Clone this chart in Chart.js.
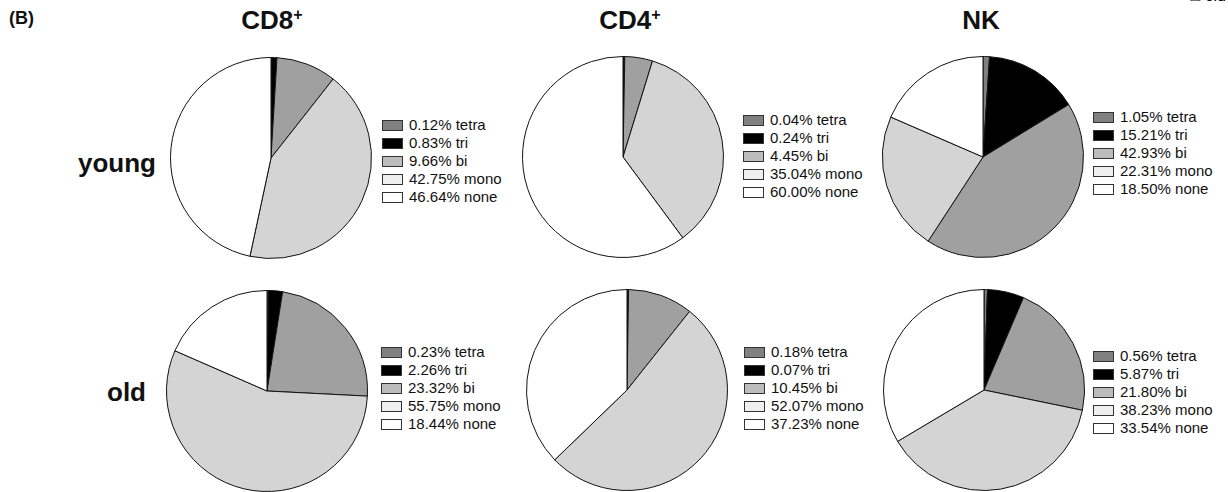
<!DOCTYPE html>
<html>
<head>
<meta charset="utf-8">
<script src="https://cdn.jsdelivr.net/npm/chart.js@4.4.0/dist/chart.umd.min.js"></script>
<style>
  body { margin: 0; background: #fff; font-family: "Liberation Sans", Arial, sans-serif; }
  #wrap { position: relative; width: 1228px; height: 492px; overflow: hidden; }
  .pie { position: absolute; }
  .title { position: absolute; font-weight: bold; font-size: 26px; color: #111; transform: translateX(-50%); }
  .title sup { font-size: 16px; vertical-align: 9px; }
  .row { position: absolute; font-weight: bold; font-size: 26px; color: #111; }
  .legend { position: absolute; font-size: 15px; color: #111; }
  .legend div { height: 18px; line-height: 18px; display: flex; align-items: center; }
  .legend span.sw { display: inline-block; width: 19px; height: 9px; border: 1px solid #333; margin-right: 6px; }
</style>
</head>
<body>
<div id="wrap">
  <div style="position:absolute;left:9px;top:8px;font-weight:bold;font-size:18px;color:#111;">(B)</div>
  <div style="position:absolute;right:2px;top:-13px;font-size:16px;">&#9633; old</div>
  <div class="title" style="left:272px;top:5px;">CD8<sup>+</sup></div>
  <div class="title" style="left:630px;top:5px;">CD4<sup>+</sup></div>
  <div class="title" style="left:981px;top:5px;">NK</div>
  <div class="row" style="left:78px;top:148px;">young</div>
  <div class="row" style="left:107px;top:377px;">old</div>
</div>
<script>
// categories and values (percent of cells)
const categories = ["tetra", "tri", "bi", "mono", "none"];
const cd8Young = [0.12, 0.83, 9.66, 42.75, 46.64];
const cd4Young = [0.04, 0.24, 4.45, 35.04, 60.00];
const nkYoung = [1.05, 15.21, 42.93, 22.31, 18.50];
const cd8Old = [0.23, 2.26, 23.32, 55.75, 18.44];
const cd4Old = [0.18, 0.07, 10.45, 52.07, 37.23];
const nkOld = [0.56, 5.87, 21.80, 38.23, 33.54];

const sliceColors = ["#7f7f7f", "#000000", "#a0a0a0", "#d4d4d4", "#ffffff"];
const swatchColors = ["#808080", "#000000", "#bcbcbc", "#efefef", "#ffffff"];

const wrap = document.getElementById("wrap");

// one pie + its legend
function addPie(values, cx, cy, legX, legY) {
  const size = 204;
  const box = document.createElement("div");
  box.className = "pie";
  box.style.left = (cx - size / 2) + "px";
  box.style.top = (cy - size / 2) + "px";
  const canvas = document.createElement("canvas");
  canvas.width = size;
  canvas.height = size;
  box.appendChild(canvas);
  wrap.appendChild(box);

  new Chart(canvas.getContext("2d"), {
    type: "pie",
    data: {
      labels: categories,
      datasets: [{
        data: values,
        backgroundColor: sliceColors,
        borderColor: "#111",
        borderWidth: 1
      }]
    },
    options: {
      responsive: false,
      animation: false,
      layout: { padding: 1 },
      plugins: { legend: { display: false }, tooltip: { enabled: false } }
    }
  });

  const leg = document.createElement("div");
  leg.className = "legend";
  leg.style.left = legX + "px";
  leg.style.top = (legY - 9) + "px";
  categories.forEach((c, i) => {
    const row = document.createElement("div");
    const sw = document.createElement("span");
    sw.className = "sw";
    sw.style.background = swatchColors[i];
    row.appendChild(sw);
    row.appendChild(document.createTextNode(values[i].toFixed(2) + "% " + c));
    leg.appendChild(row);
  });
  wrap.appendChild(leg);
}

addPie(cd8Young, 271, 158, 382, 125);
addPie(cd4Young, 623, 157, 743, 120);
addPie(nkYoung, 983, 157, 1093, 117);
addPie(cd8Old, 267, 391, 381, 352);
addPie(cd4Old, 627, 390, 744, 352);
addPie(nkOld, 984, 390, 1093, 356);
</script>
</body>
</html>
